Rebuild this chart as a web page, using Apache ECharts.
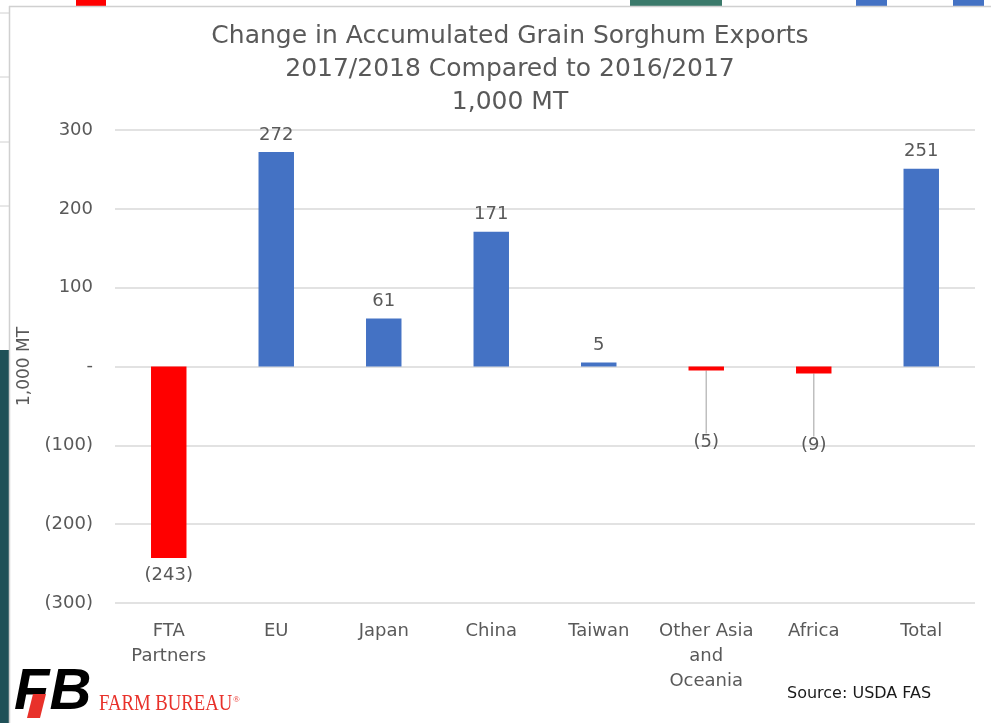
<!DOCTYPE html>
<html>
<head>
<meta charset="utf-8">
<script src="https://cdn.jsdelivr.net/npm/echarts@6/dist/echarts.min.js"></script>
<style>
  html, body { margin: 0; padding: 0; background: #fff; }
  #main { width: 991px; height: 723px; }
</style>
</head>
<body>
<div id="main"></div>
<script>
const categories = ['FTA\nPartners', 'EU', 'Japan', 'China', 'Taiwan', 'Other Asia\nand\nOceania', 'Africa', 'Total']
const values = [-243, 272, 61, 171, 5, -5, -9, 251]
const yTicks = [-300, -200, -100, 0, 100, 200, 300]
const titleLines = ['Change in Accumulated Grain Sorghum Exports', '2017/2018 Compared to 2016/2017', '1,000 MT']

const font = 'DejaVu Sans'
const grey = '#595959'

// Excel style numbers: (243) for negatives, "-" for zero
const fmt = v => v === 0 ? '-' : (v < 0 ? `(${-v})` : `${v}`)

const main = document.querySelector('#main')
const myChart = echarts.init(main)

// small bars whose labels are pulled down with a leader line
const pulled = [5, 6]

myChart.setOption({
  animation: false,
  textStyle: { fontFamily: font },
  title: {
    text: titleLines.join('\n'),
    left: 505,
    textAlign: 'center',
    top: 15,
    textStyle: { fontSize: 25, fontWeight: 'normal', color: grey, lineHeight: 33, fontFamily: font }
  },
  grid: { left: 115, right: 16, top: 130, bottom: 120 },
  xAxis: {
    type: 'category',
    data: categories,
    axisLine: { show: false },
    axisTick: { show: false },
    axisLabel: { color: grey, fontSize: 18, lineHeight: 25, margin: 16, interval: 0 }
  },
  yAxis: {
    type: 'value',
    min: yTicks[0],
    max: yTicks[yTicks.length - 1],
    interval: 100,
    name: '1,000 MT',
    nameLocation: 'middle',
    nameGap: 82,
    nameTextStyle: { color: grey, fontSize: 17 },
    axisLine: { show: false },
    axisTick: { show: false },
    axisLabel: { color: grey, fontSize: 18, margin: 22, formatter: fmt },
    splitLine: { lineStyle: { color: '#d9d9d9', width: 1.5 } }
  },
  series: [{
    type: 'bar',
    barWidth: '33%',
    data: values.map((v, i) => ({
      value: v,
      itemStyle: { color: v < 0 ? '#ff0000' : '#4472c4' },
      labelLine: { show: pulled.includes(i) }
    })),
    label: {
      show: true,
      position: 'outside',
      distance: 8,
      color: grey,
      fontSize: 18,
      formatter: p => fmt(p.value)
    },
    labelLine: { show: false, lineStyle: { color: '#bfbfbf', width: 1.5 } },
    labelLayout: p => pulled.includes(p.dataIndex) ? { dy: 55 } : {}
  }],
  graphic: [
    // slide pieces behind the chart
    { type: 'rect', shape: { x: 0, y: 350, width: 9, height: 373 }, style: { fill: '#1f5158' } },
    { type: 'line', shape: { x1: 0, y1: 13, x2: 9, y2: 13 }, style: { stroke: '#d0d0d0' } },
    { type: 'line', shape: { x1: 0, y1: 77, x2: 9, y2: 77 }, style: { stroke: '#d0d0d0' } },
    { type: 'line', shape: { x1: 0, y1: 142, x2: 9, y2: 142 }, style: { stroke: '#d0d0d0' } },
    { type: 'line', shape: { x1: 0, y1: 206, x2: 9, y2: 206 }, style: { stroke: '#d0d0d0' } },
    { type: 'rect', shape: { x: 76, y: 0, width: 30, height: 6 }, style: { fill: '#ff0000' } },
    { type: 'rect', shape: { x: 630, y: 0, width: 92, height: 6 }, style: { fill: '#3b7a6b' } },
    { type: 'rect', shape: { x: 856, y: 0, width: 31, height: 6 }, style: { fill: '#4472c4' } },
    { type: 'rect', shape: { x: 953, y: 0, width: 31, height: 6 }, style: { fill: '#4472c4' } },
    { type: 'line', shape: { x1: 9, y1: 6.5, x2: 991, y2: 6.5 }, style: { stroke: '#d0d0d0', lineWidth: 1.5 } },
    { type: 'line', shape: { x1: 9.5, y1: 6, x2: 9.5, y2: 723 }, style: { stroke: '#d0d0d0', lineWidth: 1.5 } },
    // logo
    {
      type: 'text', left: 14, top: 664,
      style: { text: 'FB', fill: '#000', font: 'italic 900 58px "Liberation Sans"' }
    },
    { type: 'polygon', shape: { points: [[33, 694], [46, 694], [40, 718], [27, 718]] }, style: { fill: '#e8312a' } },
    {
      type: 'text', x: 99, y: 692, scaleX: 0.78,
      style: { text: 'FARM BUREAU', fill: '#e8312a', font: '24px "Liberation Serif"' }
    },
    {
      type: 'text', x: 233, y: 695,
      style: { text: '®', fill: '#e8312a', font: '9px "Liberation Serif"' }
    },
    {
      type: 'text', left: 787, top: 686,
      style: { text: 'Source: USDA FAS', fill: '#1a1a1a', font: '16px "DejaVu Sans"' }
    }
  ]
})
</script>
</body>
</html>
